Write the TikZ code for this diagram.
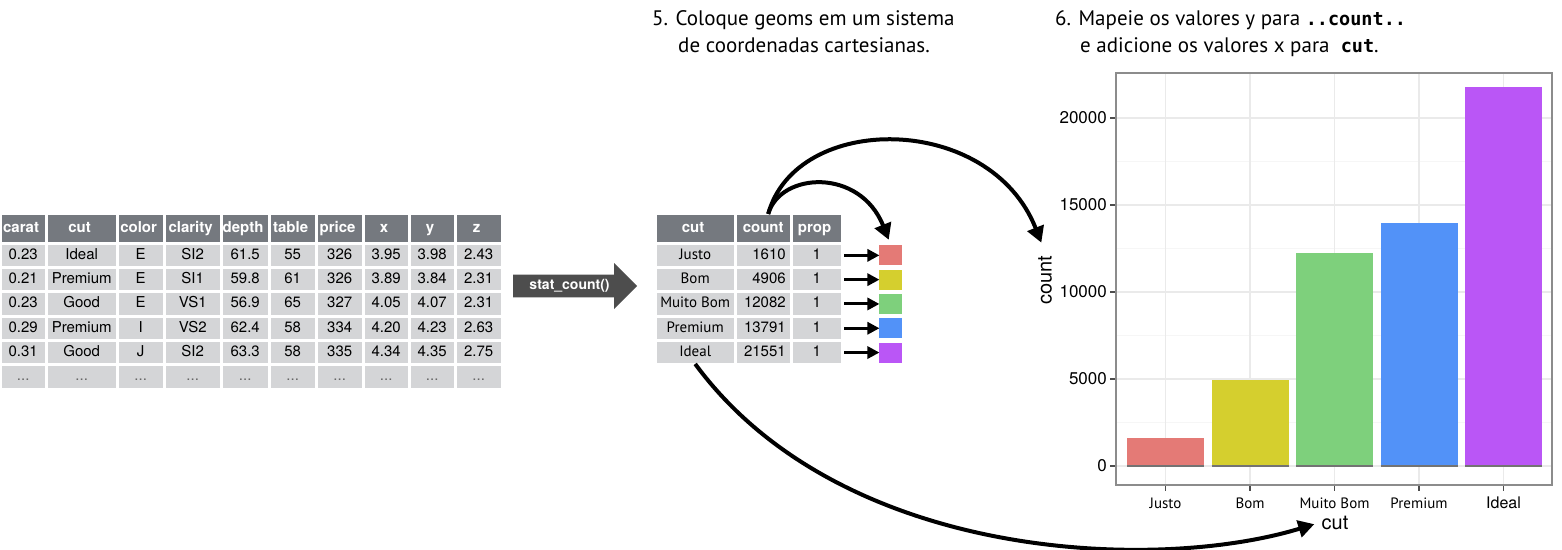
\documentclass[tikz,border=0pt]{standalone}
\usepackage{fontspec}
\setmainfont{TeX Gyre Heros}
\setmonofont{DejaVu Sans Mono}
\newfontfamily\myriad{PT Sans}
\usetikzlibrary{positioning,arrows.meta,shapes.arrows,matrix}
\definecolor{headc}{RGB}{117,121,127}
\definecolor{cellc}{RGB}{212,213,215}
\definecolor{statc}{RGB}{77,77,77}
\definecolor{gridc}{RGB}{234,234,234}
\definecolor{minorc}{RGB}{246,246,246}
\definecolor{framec}{RGB}{140,140,140}
\definecolor{cJ}{RGB}{228,122,118}
\definecolor{cB}{RGB}{213,207,46}
\definecolor{cM}{RGB}{126,208,124}
\definecolor{cP}{RGB}{82,146,248}
\definecolor{cI}{RGB}{186,86,246}
\newcommand{\codetxt}[1]{{\ttfamily\bfseries\fontsize{18.5}{27}\selectfont #1}}
\tikzset{
  cell/.style={draw=white, line width=1.5pt, fill=cellc, outer sep=0pt, inner sep=0pt, minimum height=22.8pt, text height=11pt, text depth=3pt, font=\fontsize{15}{15}\selectfont},
  head/.style={fill=headc, text=white, minimum height=28.5pt, align=center, font=\bfseries\fontsize{15}{15}\selectfont},
  tbl/.style={matrix of nodes, inner sep=0pt, row sep=0pt, column sep=0pt, anchor=north west, nodes={cell}, row 1/.style={nodes={head}}},
  statarrow/.style={single arrow, fill=statc, text=white, font=\bfseries\fontsize{14}{14}\selectfont, minimum height=124pt, minimum width=46pt, single arrow head extend=9pt, inner sep=2pt},
  swatch/.style={minimum width=23pt, minimum height=20pt, inner sep=0pt, outer sep=0pt},
  flow/.style={-{Triangle[length=16pt,width=17pt]}, line width=4pt},
  link/.style={-{Triangle[length=12pt,width=12pt]}, line width=3pt, shorten <=3pt},
  caption/.style={font=\myriad\fontsize{21}{27}\selectfont, align=left, anchor=north west, inner sep=0pt},
  ticklab/.style={font=\fontsize{17}{17}\selectfont, anchor=east, inner sep=0pt},
  cutlab/.style={font=\myriad\fontsize{15}{15}\selectfont},
  cutlabh/.style={font=\fontsize{16}{16}\selectfont},
  axlab/.style={font=\fontsize{20}{20}\selectfont}
}

\begin{document}
\begin{tikzpicture}[x=1pt, y=-1pt]
  \useasboundingbox (0,0) rectangle (1562,549);

  % raw data
  \matrix[tbl, row 7/.style={nodes={text=black!60}},
    column 1/.style={nodes={minimum width=44.5pt}}, column 2/.style={nodes={minimum width=69.5pt}},
    column 3/.style={nodes={minimum width=45.5pt}}, column 4/.style={nodes={minimum width=55.5pt}},
    column 5/.style={nodes={minimum width=46.5pt}}, column 6/.style={nodes={minimum width=45.5pt}},
    column 7/.style={nodes={minimum width=45.5pt}}, column 8/.style={nodes={minimum width=44.5pt}},
    column 9/.style={nodes={minimum width=44.5pt}}, column 10/.style={nodes={minimum width=45.5pt}}] (m1) at (0,213) {
    carat & cut & color & clarity & depth & table & price & x & y & z \\
    0.23 & Ideal & E & SI2 & 61.5 & 55 & 326 & 3.95 & 3.98 & 2.43 \\
    0.21 & Premium & E & SI1 & 59.8 & 61 & 326 & 3.89 & 3.84 & 2.31 \\
    0.23 & Good & E & VS1 & 56.9 & 65 & 327 & 4.05 & 4.07 & 2.31 \\
    0.29 & Premium & I & VS2 & 62.4 & 58 & 334 & 4.20 & 4.23 & 2.63 \\
    0.31 & Good & J & SI2 & 63.3 & 58 & 335 & 4.34 & 4.35 & 2.75 \\
    ... & ... & ... & ... & ... & ... & ... & ... & ... & ... \\
  };

  \node[statarrow, anchor=west] (stat) at (513,286) {stat\_count()};

  % computed table
  \matrix[tbl,
    column 1/.style={nodes={minimum width=78.5pt, font=\myriad\fontsize{15}{15}\selectfont}},
    column 2/.style={nodes={minimum width=54.5pt, text width=45pt, align=right}},
    column 3/.style={nodes={minimum width=49.5pt}}] (m2) at (655,213) {
    cut & count & prop \\
    Justo & 1610 & 1 \\
    Bom & 4906 & 1 \\
    Muito Bom & 12082 & 1 \\
    Premium & 13791 & 1 \\
    Ideal & 21551 & 1 \\
  };

  \foreach \r/\c in {2/cJ,3/cB,4/cM,5/cP,6/cI} {
    \node[swatch, fill=\c, right=38pt of m2-\r-3] (sw\r) {};
    \draw[link] (m2-\r-3) -- (sw\r);
  }

  \node[caption] (cap5) at (652,10) {5. Coloque geoms em um sistema\\\hspace*{26pt}de coordenadas cartesianas.};
  \node[caption] (cap6) at (1055,10) {6. Mapeie os valores y para \codetxt{..count..}\\\hspace*{25pt}e adicione os valores x para \ \codetxt{cut}.};

  % plot panel, counts in thousands
  \foreach \k in {2.5,7.5,12.5,17.5}
    \draw[minorc, line width=1.2pt] (1116,{466-17.4*\k}) -- (1552,{466-17.4*\k});
  \foreach \k/\t in {0/0,5/5000,10/10000,15/15000,20/20000} {
    \draw[gridc, line width=1.5pt] (1116,{466-17.4*\k}) -- (1552,{466-17.4*\k});
    \draw[black!70, line width=1.5pt] (1110,{466-17.4*\k}) -- (1116,{466-17.4*\k});
    \node[ticklab] (yt\k) at (1107,{466-17.4*\k}) {\t};
  }
  \foreach \i/\k/\c/\lab/\st in {1/1.610/cJ/Justo/cutlab, 2/4.906/cB/Bom/cutlab, 3/12.082/cM/Muito Bom/cutlab, 4/13.791/cP/Premium/cutlab, 5/21.551/cI/Ideal/cutlabh} {
    \pgfmathsetmacro\xc{1165.5+84.5*(\i-1)}
    \draw[gridc, line width=1.5pt] (\xc,73) -- (\xc,485);
    \fill[\c] (\xc-38.5,466) rectangle (\xc+38.5,{466-17.6*\k});
    \draw[black!55, line width=1.2pt] (\xc-38.5,466) -- (\xc+38.5,466);
    \draw[black!70, line width=1.5pt] (\xc,485) -- (\xc,491);
    \node[\st] (xt\i) at (\xc,503) {\lab};
  }
  \draw[framec, line width=1.5pt] (1116,73) rectangle (1552,485);
  \node[axlab, rotate=90] (ylab) at (1045,280) {count};
  \node[axlab] (xlab) at (1335,523) {cut};

  \draw[flow, shorten >=6pt] ([xshift=5pt]m2-1-2.north) .. controls +(12,-42) and +(-31,-78) .. (sw2.north);
  \draw[flow, shorten >=10pt] ([xshift=5pt]m2-1-2.north) .. controls +(28,-102) and +(-55,-140) .. (ylab.east);
  \draw[flow, shorten >=4pt] (m2-6-1.south) .. controls +(145,197) and +(-164,50) .. (xlab.west);
\end{tikzpicture}
\end{document}
